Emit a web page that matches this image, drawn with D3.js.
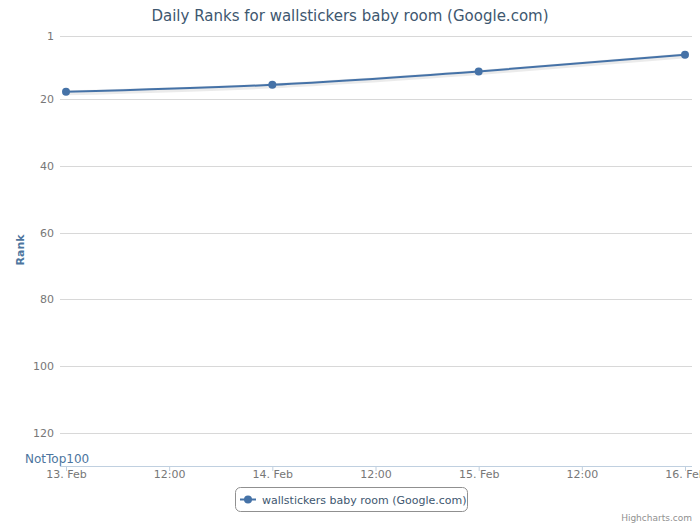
<!DOCTYPE html>
<html>
<head>
<meta charset="utf-8">
<script src="https://cdn.jsdelivr.net/npm/d3@7"></script>
<style>
body{margin:0;background:#fff;}
svg{font-family:"DejaVu Sans",Verdana,sans-serif;}
</style>
</head>
<body>
<div id="chart"></div>
<script>
// data
var dates=["2013-02-13","2013-02-14","2013-02-15","2013-02-16"];
var ranks=[17.8,15.7,11.7,6.7];
var rankTicks=[1,20,40,60,80,100,120];
var seriesName="wallstickers baby room (Google.com)";
var titleText="Daily Ranks for wallstickers baby room (Google.com)";

var width=700,height=525;
var parse=d3.timeParse("%Y-%m-%d");
var points=dates.map(function(d,i){return {date:parse(d),rank:ranks[i]};});

var svg=d3.select("#chart").append("svg")
  .attr("width",width)
  .attr("height",height);

var x=d3.scaleTime()
  .domain([parse(dates[0]),parse(dates[dates.length-1])])
  .range([66,685]);
var y=d3.scaleLinear()
  .domain([1,130])
  .range([35.8,466]);

// title
svg.append("text")
  .attr("x",width/2)
  .attr("y",21)
  .attr("text-anchor","middle")
  .attr("fill","#3E576F")
  .attr("font-size",15)
  .text(titleText);

// grid lines + y labels
svg.append("g").selectAll("line")
  .data(rankTicks)
  .enter()
  .append("line")
  .attr("x1",60)
  .attr("x2",692)
  .attr("y1",function(d){return Math.round(y(d))+0.5;})
  .attr("y2",function(d){return Math.round(y(d))+0.5;})
  .attr("stroke","#d8d8d8")
  .attr("stroke-width",1);

svg.append("g").selectAll("text")
  .data(rankTicks)
  .enter()
  .append("text")
  .attr("x",54)
  .attr("y",function(d){return y(d)+4;})
  .attr("text-anchor","end")
  .attr("fill","#777")
  .attr("font-size",11)
  .text(function(d){return d;});

// y axis title
svg.append("text")
  .attr("transform","translate(24,250) rotate(-90)")
  .attr("text-anchor","middle")
  .attr("fill","#4d759e")
  .attr("font-size",11)
  .attr("font-weight","bold")
  .text("Rank");

svg.append("text")
  .attr("x",25)
  .attr("y",463)
  .attr("fill","#4d759e")
  .attr("font-size",12)
  .text("NotTop100");

// x axis
var xAxis=d3.axisBottom(x)
  .ticks(d3.timeHour.every(12))
  .tickSize(5)
  .tickFormat(function(d){
    return d.getHours()===0 ? d3.timeFormat("%-d. %b")(d) : d3.timeFormat("%H:%M")(d);
  });
var gx=svg.append("g")
  .attr("transform","translate(0,466)")
  .call(xAxis);
gx.select(".domain").attr("stroke","#C0D0E0").attr("d","M60,0.5H692");
gx.selectAll(".tick line").attr("stroke","#C0D0E0");
gx.selectAll(".tick text")
  .attr("fill","#777")
  .attr("font-size",11)
  .attr("font-family","DejaVu Sans, Verdana, sans-serif")
  .attr("y",4)
  .attr("dy","0.71em");

// series
var line=d3.line()
  .x(function(d){return x(d.date);})
  .y(function(d){return y(d.rank);})
  .curve(d3.curveMonotoneX);

svg.append("path")
  .datum(points)
  .attr("d",line)
  .attr("fill","none")
  .attr("stroke","#000")
  .attr("stroke-opacity",0.08)
  .attr("stroke-width",5)
  .attr("transform","translate(1,1)");
svg.append("path")
  .datum(points)
  .attr("d",line)
  .attr("fill","none")
  .attr("stroke","#4572A7")
  .attr("stroke-width",2);

svg.selectAll("circle.pt")
  .data(points)
  .enter()
  .append("circle")
  .attr("class","pt")
  .attr("cx",function(d){return x(d.date);})
  .attr("cy",function(d){return y(d.rank);})
  .attr("r",4)
  .attr("fill","#4572A7");

// legend
var legend=svg.append("g");
legend.append("rect")
  .attr("x",235.5)
  .attr("y",487.5)
  .attr("width",232)
  .attr("height",24)
  .attr("rx",5)
  .attr("fill","#fff")
  .attr("stroke","#909090");
legend.append("line")
  .attr("x1",240).attr("x2",256)
  .attr("y1",499.5).attr("y2",499.5)
  .attr("stroke","#4572A7")
  .attr("stroke-width",2);
legend.append("circle")
  .attr("cx",248).attr("cy",499.5).attr("r",4)
  .attr("fill","#4572A7");
legend.append("text")
  .attr("x",262)
  .attr("y",504)
  .attr("fill","#3E576F")
  .attr("font-size",11)
  .text(seriesName);

svg.append("text")
  .attr("x",692)
  .attr("y",521)
  .attr("text-anchor","end")
  .attr("fill","#909090")
  .attr("font-size",9)
  .text("Highcharts.com");
</script>
</body>
</html>
